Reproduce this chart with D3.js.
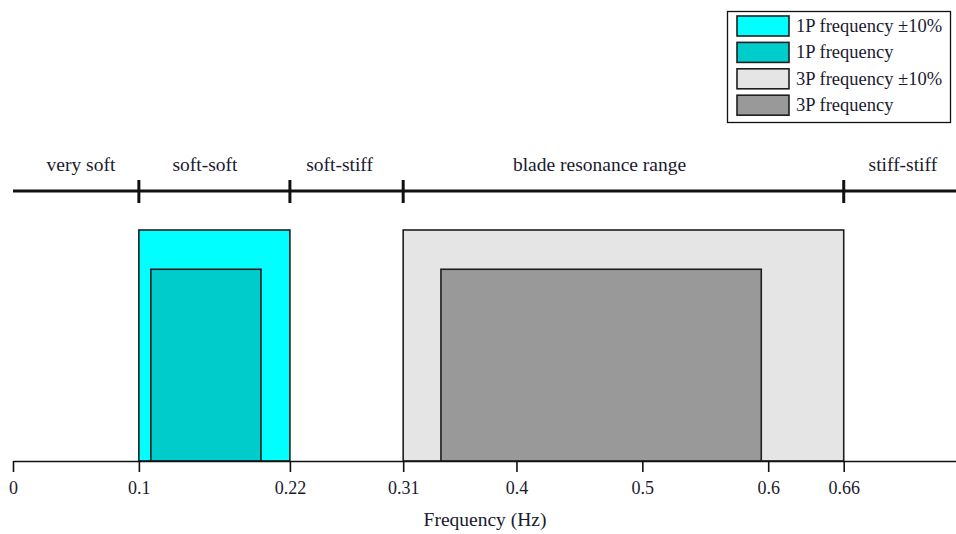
<!DOCTYPE html>
<html>
<head>
<meta charset="utf-8">
<script src="https://cdn.jsdelivr.net/npm/d3@7"></script>
<style>
  html, body { margin: 0; padding: 0; background: #fff; }
  svg { display: block; }
  text { font-family: "Liberation Serif", "Times New Roman", serif; fill: #1a1a30; }
</style>
</head>
<body>
<svg id="chart" width="956" height="534"></svg>
<script>
// Frequency bands (Hz)
const bandNames = ["1P frequency ±10%", "1P frequency", "3P frequency ±10%", "3P frequency"];
const bandStart = [0.1, 0.1095, 0.31, 0.34];
const bandEnd   = [0.22, 0.197, 0.66, 0.5945];
const bandLevel = [1.0, 0.83, 1.0, 0.83];
const bandColor = ["#00ffff", "#00cccc", "#e5e5e5", "#999999"];

// Stiffness regions along the top ruler
const regionBreaks = [0.1, 0.22, 0.31, 0.66];
const regionNames  = ["very soft", "soft-soft", "soft-stiff", "blade resonance range", "stiff-stiff"];
const regionLabelAt = [0.054, 0.1525, 0.2595, 0.466, 0.707];

// Bottom axis ticks
const tickValues = [0, 0.1, 0.22, 0.31, 0.4, 0.5, 0.6, 0.66];
const tickLabels = ["0", "0.1", "0.22", "0.31", "0.4", "0.5", "0.6", "0.66"];

const svg = d3.select("#chart");

const x = d3.scaleLinear().domain([0, 0.75]).range([13, 957]);
const baseY = 461;
const y = d3.scaleLinear().domain([0, 1]).range([baseY, 230]);

// Bands
const bands = bandNames.map((n, i) => ({
  name: n, start: bandStart[i], end: bandEnd[i], level: bandLevel[i], color: bandColor[i]
}));

svg.append("g").selectAll("rect")
  .data(bands)
  .join("rect")
  .attr("x", d => x(d.start))
  .attr("y", d => y(d.level))
  .attr("width", d => x(d.end) - x(d.start))
  .attr("height", d => y(0) - y(d.level))
  .attr("fill", d => d.color)
  .attr("stroke", "#1e1e1e")
  .attr("stroke-width", 1.6);

// Bottom frequency axis
const axis = d3.axisBottom(x)
  .tickValues(tickValues)
  .tickFormat((d, i) => tickLabels[i])
  .tickSize(11)
  .tickSizeOuter(0)
  .tickPadding(9);

const gx = svg.append("g")
  .attr("transform", `translate(0,${baseY})`)
  .call(axis);
gx.select(".domain").attr("stroke", "#111").attr("stroke-width", 1.6);
gx.selectAll(".tick line").attr("stroke", "#111").attr("stroke-width", 1.6);
gx.selectAll(".tick text")
  .attr("font-family", "Liberation Serif, serif")
  .attr("font-size", 18)
  .attr("fill", "#1a1a30");

svg.append("text")
  .attr("x", 485)
  .attr("y", 526)
  .attr("text-anchor", "middle")
  .attr("font-size", 19.5)
  .text("Frequency (Hz)");

// Top stiffness ruler
const rulerY = 191;
const ruler = svg.append("g");
ruler.append("line")
  .attr("x1", x(0)).attr("x2", x(0.75))
  .attr("y1", rulerY).attr("y2", rulerY)
  .attr("stroke", "#111").attr("stroke-width", 3);
ruler.selectAll(".rtick")
  .data(regionBreaks)
  .join("line")
  .attr("class", "rtick")
  .attr("x1", d => x(d)).attr("x2", d => x(d))
  .attr("y1", rulerY - 11).attr("y2", rulerY + 12)
  .attr("stroke", "#111").attr("stroke-width", 3);
ruler.selectAll(".rlabel")
  .data(regionNames)
  .join("text")
  .attr("class", "rlabel")
  .attr("x", (d, i) => x(regionLabelAt[i]))
  .attr("y", 171)
  .attr("text-anchor", "middle")
  .attr("font-size", 19.5)
  .text(d => d);

// Legend
const legend = svg.append("g");
legend.append("rect")
  .attr("x", 727.5).attr("y", 11.5)
  .attr("width", 223).attr("height", 111)
  .attr("fill", "#fff")
  .attr("stroke", "#111").attr("stroke-width", 1.3);
const rowH = 26.4;
const rows = legend.selectAll(".lrow")
  .data(bands)
  .join("g")
  .attr("class", "lrow")
  .attr("transform", (d, i) => `translate(737,${16 + i * rowH})`);
rows.append("rect")
  .attr("width", 52).attr("height", 20)
  .attr("fill", d => d.color)
  .attr("stroke", "#1e1e1e").attr("stroke-width", 1.6);
rows.append("text")
  .attr("x", 59).attr("y", 16)
  .attr("font-size", 18.5)
  .text(d => d.name);
</script>
</body>
</html>
